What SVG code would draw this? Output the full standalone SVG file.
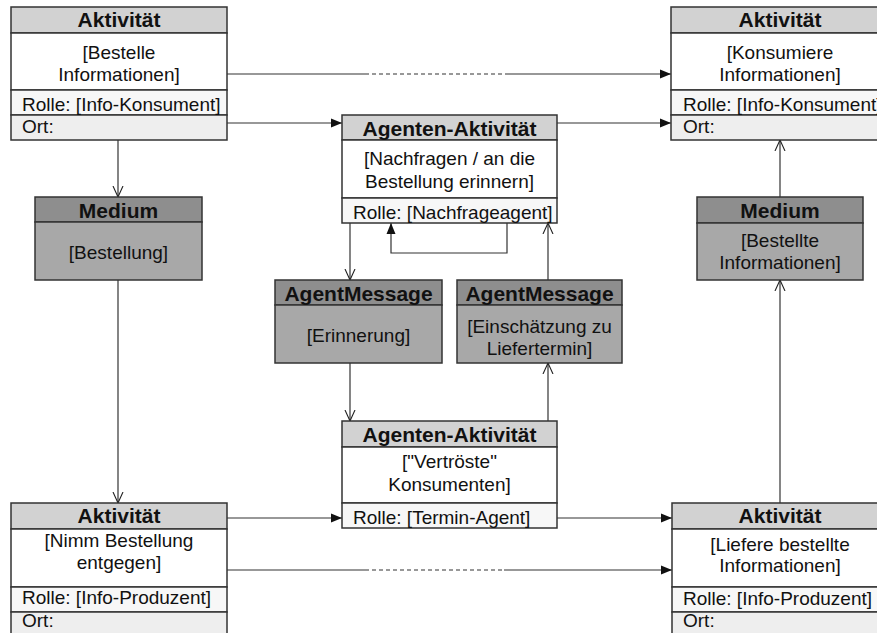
<svg xmlns="http://www.w3.org/2000/svg" width="877" height="633" viewBox="0 0 877 633">
  <style>
    text { font-family: "Liberation Sans", Arial, sans-serif; fill: #111; }
    .hd { font-size: 21px; font-weight: bold; text-anchor: middle; }
    .tx { font-size: 19px; text-anchor: middle; }
    .rw { font-size: 19px; }
    .box { stroke: #333; stroke-width: 1.5; }
    .hdA { fill: #d2d2d2; }
    .hdM { fill: #8e8e8e; }
    .body { fill: #ffffff; }
    .bodyM { fill: #a8a8a8; }
    .role { fill: #f7f7f7; }
    .ort { fill: #eeeeee; }
    .ln { stroke: #333; stroke-width: 1.2; fill: none; }
    .dash { stroke-dasharray: 4 3; }
  </style>
  <defs>
    <marker id="filled" markerUnits="userSpaceOnUse" markerWidth="12" markerHeight="10" refX="11" refY="5" orient="auto">
      <path d="M0,0.5 L11,5 L0,9.5 z" fill="#111"/>
    </marker>
    <marker id="open" markerUnits="userSpaceOnUse" markerWidth="12" markerHeight="12" refX="11" refY="6" orient="auto">
      <path d="M0,1 L11,6 L0,11" fill="none" stroke="#222" stroke-width="1.1"/>
    </marker>
  </defs>

  <rect width="877" height="633" fill="#ffffff"/>

  <!-- connectors -->
  <g id="connectors">
    <!-- top information flow -->
    <path class="ln" d="M227,74 H365"/>
    <path class="ln dash" d="M365,74 H505"/>
    <path class="ln" d="M505,74 H671" marker-end="url(#filled)"/>
    <path class="ln" d="M227,123 H342" marker-end="url(#filled)"/>
    <path class="ln" d="M557,123 H671" marker-end="url(#filled)"/>
    <!-- order medium -->
    <path class="ln" d="M118,140 V197" marker-end="url(#open)"/>
    <path class="ln" d="M118,280 V503" marker-end="url(#open)"/>
    <!-- agent messages -->
    <path class="ln" d="M350,223 V280" marker-end="url(#open)"/>
    <path class="ln" d="M507,223 V253 H391 V223" marker-end="url(#filled)"/>
    <path class="ln" d="M548,280 V223" marker-end="url(#open)"/>
    <path class="ln" d="M350,363 V421" marker-end="url(#open)"/>
    <path class="ln" d="M548,421 V363" marker-end="url(#open)"/>
    <!-- bottom flow -->
    <path class="ln" d="M227,518 H342" marker-end="url(#filled)"/>
    <path class="ln" d="M557,518 H672" marker-end="url(#filled)"/>
    <path class="ln" d="M227,570 H365"/>
    <path class="ln dash" d="M365,570 H504"/>
    <path class="ln" d="M504,570 H672" marker-end="url(#filled)"/>
    <!-- delivered information medium -->
    <path class="ln" d="M780,503 V280" marker-end="url(#open)"/>
    <path class="ln" d="M780,197 V140" marker-end="url(#open)"/>
  </g>

  <!-- Aktivität: Bestelle Informationen -->
  <g id="akt-bestelle">
    <rect class="box hdA" x="11" y="7" width="216" height="26"/>
    <rect class="box body" x="11" y="33" width="216" height="57"/>
    <rect class="box role" x="11" y="90" width="216" height="25"/>
    <rect class="box ort" x="11" y="115" width="216" height="25"/>
    <text class="hd" x="119" y="27">Aktivität</text>
    <text class="tx" x="119" y="59">[Bestelle</text>
    <text class="tx" x="119" y="81">Informationen]</text>
    <text class="rw" x="22" y="111">Rolle: [Info-Konsument]</text>
    <text class="rw" x="22" y="133">Ort:</text>
  </g>

  <!-- Aktivität: Konsumiere Informationen -->
  <g id="akt-konsumiere">
    <rect class="box hdA" x="671" y="7" width="217" height="26"/>
    <rect class="box body" x="671" y="33" width="217" height="57"/>
    <rect class="box role" x="671" y="90" width="217" height="25"/>
    <rect class="box ort" x="671" y="115" width="217" height="25"/>
    <text class="hd" x="780" y="27">Aktivität</text>
    <text class="tx" x="780" y="59">[Konsumiere</text>
    <text class="tx" x="780" y="81">Informationen]</text>
    <text class="rw" x="683" y="111">Rolle: [Info-Konsument]</text>
    <text class="rw" x="683" y="133">Ort:</text>
  </g>

  <!-- Agenten-Aktivität: Nachfragen -->
  <g id="agent-nachfragen">
    <rect class="box hdA" x="342" y="115" width="215" height="25"/>
    <rect class="box body" x="342" y="140" width="215" height="58"/>
    <rect class="box role" x="342" y="198" width="215" height="25"/>
    <text class="hd" x="449.5" y="136">Agenten-Aktivität</text>
    <text class="tx" x="449.5" y="165">[Nachfragen / an die</text>
    <text class="tx" x="449.5" y="188">Bestellung erinnern]</text>
    <text class="rw" x="353" y="219">Rolle: [Nachfrageagent]</text>
  </g>

  <!-- Medium: Bestellung -->
  <g id="medium-bestellung">
    <rect class="box hdM" x="35" y="197" width="167" height="25"/>
    <rect class="box bodyM" x="35" y="222" width="167" height="58"/>
    <text class="hd" x="118.5" y="218">Medium</text>
    <text class="tx" x="118.5" y="259">[Bestellung]</text>
  </g>

  <!-- Medium: Bestellte Informationen -->
  <g id="medium-informationen">
    <rect class="box hdM" x="697" y="197" width="166" height="26"/>
    <rect class="box bodyM" x="697" y="223" width="166" height="57"/>
    <text class="hd" x="780" y="218">Medium</text>
    <text class="tx" x="780" y="247">[Bestellte</text>
    <text class="tx" x="780" y="269">Informationen]</text>
  </g>

  <!-- AgentMessage: Erinnerung -->
  <g id="msg-erinnerung">
    <rect class="box hdM" x="275" y="280" width="167" height="25"/>
    <rect class="box bodyM" x="275" y="305" width="167" height="58"/>
    <text class="hd" x="358.5" y="301">AgentMessage</text>
    <text class="tx" x="358.5" y="342">[Erinnerung]</text>
  </g>

  <!-- AgentMessage: Einschätzung zu Liefertermin -->
  <g id="msg-einschaetzung">
    <rect class="box hdM" x="457" y="280" width="165" height="25"/>
    <rect class="box bodyM" x="457" y="305" width="165" height="58"/>
    <text class="hd" x="539.5" y="301">AgentMessage</text>
    <text class="tx" x="539.5" y="333">[Einschätzung zu</text>
    <text class="tx" x="539.5" y="355">Liefertermin]</text>
  </g>

  <!-- Agenten-Aktivität: Vertröste Konsumenten -->
  <g id="agent-vertroeste">
    <rect class="box hdA" x="342" y="421" width="215" height="26"/>
    <rect class="box body" x="342" y="447" width="215" height="56"/>
    <rect class="box role" x="342" y="503" width="215" height="25"/>
    <text class="hd" x="449.5" y="442">Agenten-Aktivität</text>
    <text class="tx" x="449.5" y="468">["Vertröste"</text>
    <text class="tx" x="449.5" y="491">Konsumenten]</text>
    <text class="rw" x="353" y="524">Rolle: [Termin-Agent]</text>
  </g>

  <!-- Aktivität: Nimm Bestellung entgegen -->
  <g id="akt-nimm">
    <rect class="box hdA" x="11" y="503" width="216" height="26"/>
    <rect class="box body" x="11" y="529" width="216" height="58"/>
    <rect class="box role" x="11" y="587" width="216" height="25"/>
    <rect class="box ort" x="11" y="612" width="216" height="25"/>
    <text class="hd" x="119" y="523">Aktivität</text>
    <text class="tx" x="119" y="547">[Nimm Bestellung</text>
    <text class="tx" x="119" y="569">entgegen]</text>
    <text class="rw" x="22" y="604">Rolle: [Info-Produzent]</text>
    <text class="rw" x="22" y="627">Ort:</text>
  </g>

  <!-- Aktivität: Liefere bestellte Informationen -->
  <g id="akt-liefere">
    <rect class="box hdA" x="672" y="503" width="216" height="26"/>
    <rect class="box body" x="672" y="529" width="216" height="58"/>
    <rect class="box role" x="672" y="587" width="216" height="25"/>
    <rect class="box ort" x="672" y="612" width="216" height="25"/>
    <text class="hd" x="780" y="523">Aktivität</text>
    <text class="tx" x="780" y="551">[Liefere bestellte</text>
    <text class="tx" x="780" y="572">Informationen]</text>
    <text class="rw" x="683" y="605">Rolle: [Info-Produzent]</text>
    <text class="rw" x="683" y="627">Ort:</text>
  </g>
</svg>
